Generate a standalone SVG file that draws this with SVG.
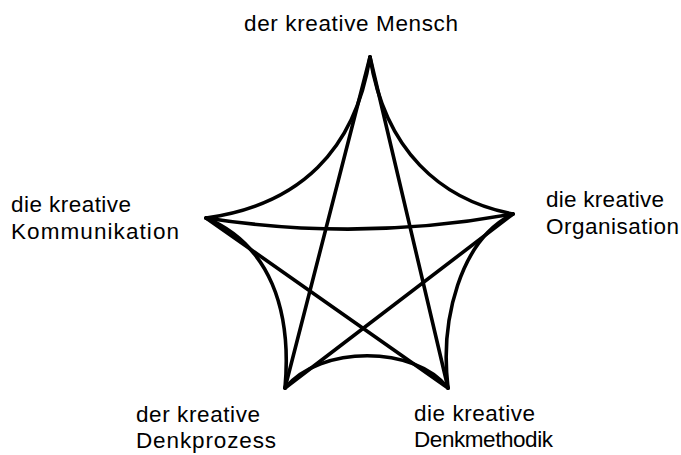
<svg xmlns="http://www.w3.org/2000/svg" width="681" height="455" viewBox="0 0 681 455">
  <style>
    .lbl { font-family: "Liberation Sans", Arial, sans-serif; font-size: 22.5px; fill: #000; }
    .edge { fill: none; stroke: #000; stroke-width: 3.6; stroke-linecap: round; stroke-linejoin: round; }
  </style>
  <rect width="681" height="455" fill="#fff"/>
  <g id="connectors">
    <path class="edge" d="M370,57 C355,150 300,205 206,218"/>
    <path class="edge" d="M370,57 C385,150 440,200 513,214"/>
    <path class="edge" d="M513,214 C460,240 440,320 448,388"/>
    <path class="edge" d="M206,218 C270,245 292,310 285,388"/>
    <path class="edge" d="M285,388 C320,345 415,345 448,388"/>
    <path class="edge" d="M370,57 L285,388"/>
    <path class="edge" d="M370,57 L448,388"/>
    <path class="edge" d="M206,218 Q360,242 513,214"/>
    <path class="edge" d="M206,218 L448,388"/>
    <path class="edge" d="M513,214 L285,388"/>
  </g>
  <g id="node-mensch">
    <text class="lbl" x="244" y="31" textLength="214" lengthAdjust="spacing">der kreative Mensch</text>
  </g>
  <g id="node-kommunikation">
    <text class="lbl" x="11" y="212" textLength="120" lengthAdjust="spacing">die kreative</text>
    <text class="lbl" x="11" y="239" textLength="168" lengthAdjust="spacing">Kommunikation</text>
  </g>
  <g id="node-organisation">
    <text class="lbl" x="546" y="207" textLength="118" lengthAdjust="spacing">die kreative</text>
    <text class="lbl" x="546" y="234" textLength="133" lengthAdjust="spacing">Organisation</text>
  </g>
  <g id="node-denkprozess">
    <text class="lbl" x="136" y="422" textLength="124" lengthAdjust="spacing">der kreative</text>
    <text class="lbl" x="136" y="448" textLength="140" lengthAdjust="spacing">Denkprozess</text>
  </g>
  <g id="node-denkmethodik">
    <text class="lbl" x="414" y="421" textLength="121" lengthAdjust="spacing">die kreative</text>
    <text class="lbl" x="414" y="447" textLength="139" lengthAdjust="spacing">Denkmethodik</text>
  </g>
</svg>
